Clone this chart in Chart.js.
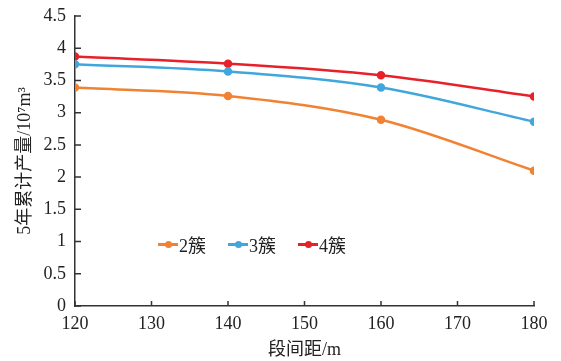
<!DOCTYPE html>
<html>
<head>
<meta charset="utf-8">
<script src="https://cdn.jsdelivr.net/npm/chart.js@4/dist/chart.umd.min.js"></script>
<style>
  html, body { margin: 0; padding: 0; background: #fff; }
  #wrap { position: relative; width: 561px; height: 361px; }
  #legend {
    position: absolute; left: 158px; top: 231px;
    display: flex; gap: 22px;
    font-family: "Liberation Serif", "Noto Sans CJK SC", serif; font-size: 18px; color: #222;
  }
  #legend .item { display: flex; align-items: center; }
  #legend .mark { position: relative; width: 20px; height: 3px; margin-right: 1px; }
  #legend .mark i { position: absolute; left: 7px; top: -2px; width: 7px; height: 7px; border-radius: 50%; }
</style>
</head>
<body>
<div id="wrap">
  <canvas id="lineChart" width="561" height="361"></canvas>
  <div id="legend"></div>
</div>
<script>
const spacing = [120, 140, 160, 180];
const seriesNames = ["2簇", "3簇", "4簇"];
const cluster2 = [3.39, 3.26, 2.89, 2.10];
const cluster3 = [3.75, 3.64, 3.39, 2.86];
const cluster4 = [3.87, 3.76, 3.58, 3.25];
const colors = ["#f08232", "#41a6dc", "#e8202a"];
const xTicks = [120, 130, 140, 150, 160, 170, 180];
const yTicks = [0, 0.5, 1, 1.5, 2, 2.5, 3, 3.5, 4, 4.5];

const font = "'Liberation Serif', 'Noto Sans CJK SC', serif";
const axisColor = "#333";

const datasets = [cluster2, cluster3, cluster4].map((vals, i) => ({
  label: seriesNames[i],
  data: vals.map((v, j) => ({ x: spacing[j], y: v })),
  borderColor: colors[i],
  backgroundColor: colors[i],
  borderWidth: 2.5,
  pointRadius: 3,
  pointHoverRadius: 3,
  tension: 0.4,
  cubicInterpolationMode: "monotone"
}));

// short tick marks drawn inside the plot area
const innerTicks = {
  id: "innerTicks",
  afterDraw(chart) {
    const { ctx, scales: { x, y } } = chart;
    ctx.save();
    ctx.strokeStyle = axisColor;
    ctx.lineWidth = 1.5;
    ctx.beginPath();
    xTicks.forEach(t => {
      const px = x.getPixelForValue(t);
      ctx.moveTo(px, y.bottom);
      ctx.lineTo(px, y.bottom - 5);
    });
    yTicks.forEach(t => {
      const py = y.getPixelForValue(t);
      ctx.moveTo(x.left, py);
      ctx.lineTo(x.left + 6, py);
    });
    ctx.stroke();
    ctx.restore();
  }
};

new Chart(document.getElementById("lineChart").getContext("2d"), {
  type: "line",
  data: { datasets },
  plugins: [innerTicks],
  options: {
    responsive: false,
    animation: false,
    layout: { padding: { top: 16, right: 27, left: 0, bottom: 0 } },
    plugins: { legend: { display: false }, tooltip: { enabled: false } },
    scales: {
      x: {
        type: "linear",
        min: 120, max: 180,
        afterBuildTicks: s => { s.ticks = xTicks.map(v => ({ value: v })); },
        afterFit: s => { s.height = 55; s.paddingLeft = 0; s.paddingRight = 0; },
        grid: { display: false, drawTicks: false },
        border: { display: true, color: axisColor, width: 1.5 },
        ticks: { color: "#222", font: { family: font, size: 18 }, padding: 7, maxRotation: 0 },
        title: { display: true, text: "段间距/m", color: "#222", font: { family: font, size: 18 }, padding: { top: 6, bottom: 0 } }
      },
      y: {
        min: 0, max: 4.5,
        afterBuildTicks: s => { s.ticks = yTicks.map(v => ({ value: v })); },
        afterFit: s => { s.width = 75; s.paddingTop = 0; s.paddingBottom = 0; },
        grid: { display: false, drawTicks: false },
        border: { display: true, color: axisColor, width: 1.5 },
        ticks: { color: "#222", font: { family: font, size: 18 }, padding: 9, callback: v => String(v) },
        title: { display: true, text: "5年累计产量/10⁷m³", color: "#222", font: { family: font, size: 18 }, padding: { top: 14, bottom: 0 } }
      }
    }
  }
});

const legend = document.getElementById("legend");
seriesNames.forEach((name, i) => {
  const item = document.createElement("div");
  item.className = "item";
  item.innerHTML = `<span class="mark" style="background:${colors[i]}"><i style="background:${colors[i]}"></i></span><span>${name}</span>`;
  legend.appendChild(item);
});
</script>
</body>
</html>
